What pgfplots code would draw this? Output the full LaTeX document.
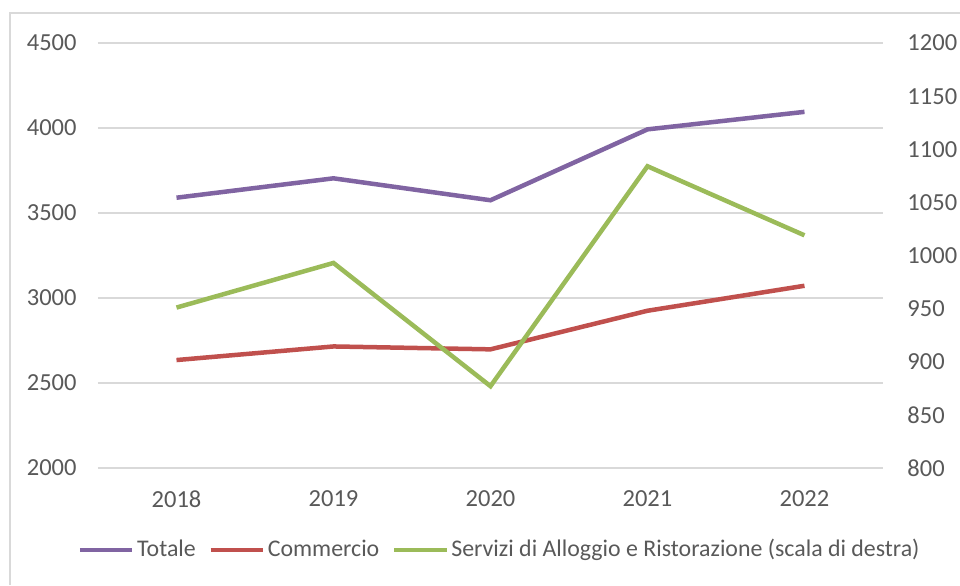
\documentclass[border=0pt]{standalone}
\usepackage{fontspec}
\setmainfont{Carlito}
\usepackage{pgfplots}
\pgfplotsset{compat=1.18}

\definecolor{cTot}{HTML}{8064A2}
\definecolor{cCom}{HTML}{C0504D}
\definecolor{cSer}{HTML}{9BBB59}
\definecolor{cGrid}{HTML}{D9D9D9}
\definecolor{cTxt}{HTML}{595959}

\pgfplotsset{
  base/.style={
    scale only axis,
    width=314pt, height=170pt,
    at={(39.2pt,46.8pt)}, anchor=south west,
    xmin=-0.5, xmax=4.5,
    xtick={0,1,2,3,4},
    xticklabels={2018,2019,2020,2021,2022},
    major tick length=0pt,
    tick label style={font=\fontsize{9.8}{11.8}\selectfont, text=cTxt, inner sep=0pt},
    /pgf/number format/assume math mode=true,
    /pgf/number format/1000 sep={},
  },
}

\begin{document}
\begin{tikzpicture}
\path[use as bounding box] (0,0) rectangle (384pt,234pt);
\draw[cGrid, line width=0.8pt] (4pt,0) -- (4pt,228.8pt) -- (384pt,228.8pt);

\begin{axis}[base,
  ymin=2000, ymax=4500, ytick={2000,2500,...,4500},
  axis line style={draw=none},
  ymajorgrids, grid style={cGrid, line width=0.45pt},
  yticklabel style={xshift=-8.4pt},
  xticklabel style={yshift=-9pt},
]
\addplot[cTot, line width=1.8pt, mark=none] coordinates {(0,3590) (1,3704) (2,3575) (3,3992) (4,4095)};
\addplot[cCom, line width=1.8pt, mark=none] coordinates {(0,2635) (1,2715) (2,2698) (3,2925) (4,3072)};
\end{axis}

\begin{axis}[base,
  ymin=800, ymax=1200, ytick={800,850,...,1200},
  axis y line*=right, axis x line=none,
  axis line style={draw=none},
  yticklabel style={xshift=9.6pt},
  legend columns=3,
  legend style={draw=none, fill=none, at={(0.512,-0.193)}, anchor=center,
    font=\fontsize{9.55}{11.5}\selectfont, text=cTxt, inner sep=0pt,
    nodes={inner sep=1pt},
    /tikz/every even column/.append style={column sep=4pt}},
  legend image code/.code={\draw[#1] (0pt,0pt) -- (21pt,0pt);},
]
\addlegendimage{cTot, line width=1.8pt}
\addlegendentry{Totale}
\addlegendimage{cCom, line width=1.8pt}
\addlegendentry{Commercio}
\addplot[cSer, line width=1.8pt, mark=none] coordinates {(0,951) (1,993) (2,877) (3,1084) (4,1019)};
\addlegendentry{Servizi di Alloggio e Ristorazione (scala di destra)}
\end{axis}
\end{tikzpicture}
\end{document}
